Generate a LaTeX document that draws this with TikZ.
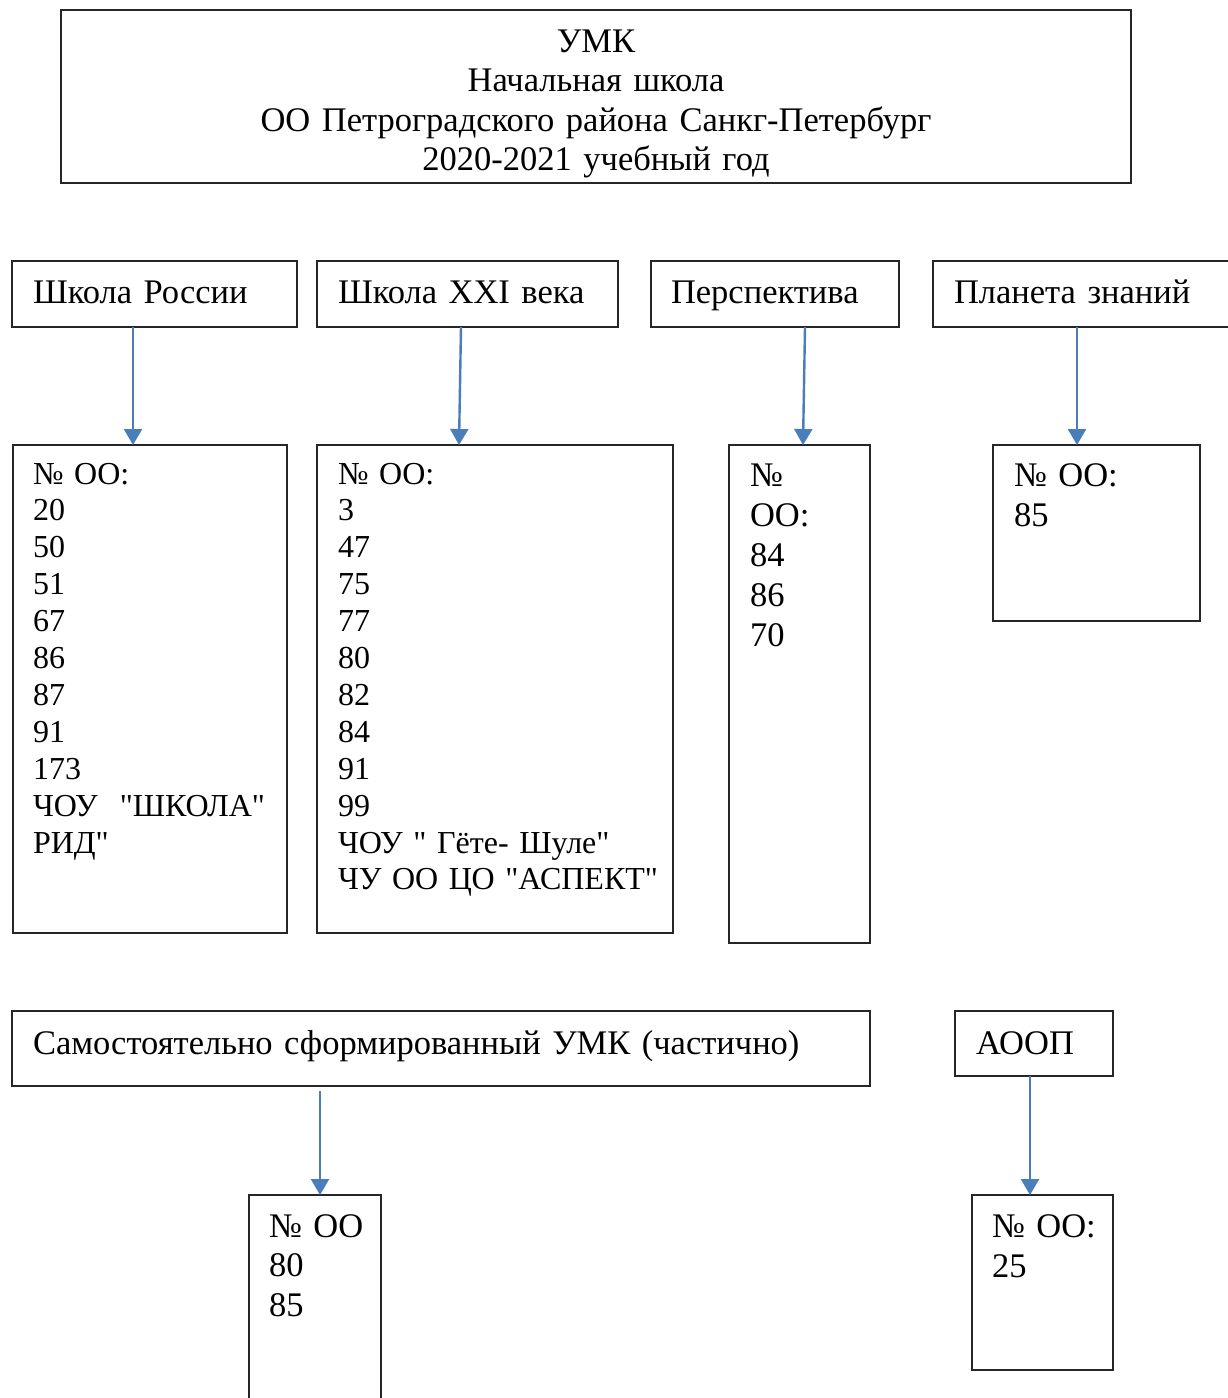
\documentclass[tikz,border=0pt]{standalone}
\usepackage{fontspec}
\setmainfont{Liberation Serif}[Ligatures=TeXOff]
\usetikzlibrary{arrows.meta}
\definecolor{arr}{HTML}{4A7EBB}
\begin{document}
\begin{tikzpicture}[x=1pt,y=-1pt,
  box/.style={draw=black!85, line width=1.3pt, inner sep=0pt, outer sep=0pt, anchor=north west},
  boxwh/.style 2 args={box, minimum width=#1, minimum height=#2},
  txt/.style={anchor=base west, inner sep=0pt, outer sep=0pt, align=left, text width=900pt},
  fa/.style={font=\fontsize{32}{36.9}\selectfont},
  fb/.style={font=\fontsize{34.5}{40}\selectfont},
  fh/.style={font=\fontsize{34.5}{39.5}\selectfont},
  conn/.style={draw=arr, line width=2.4pt, -{Triangle[width=18pt,length=16pt]}}
]
\fill[white] (0,0) rectangle (1227,1398);
\useasboundingbox (0,0) rectangle (1227,1398);

% title
\node[boxwh={1070pt}{173pt}] (title) at (61,10) {};
\node[anchor=base, inner sep=0pt, align=center, text width=1000pt, fh] (titletext) at (596,52)
  {УМК\\Начальная школа\\ОО Петроградского района Санкг-Петербург\\2020-2021 учебный год};

% headers
\node[boxwh={285pt}{66pt}] (h1) at (12,261) {};
\node[boxwh={301pt}{66pt}] (h2) at (317,261) {};
\node[boxwh={248pt}{66pt}] (h3) at (651,261) {};
\node[boxwh={310pt}{66pt}] (h4) at (933,261) {};
\node[txt,fh] (h1t) at (33,303) {Школа России};
\node[txt,fh] (h2t) at (338,303) {Школа XXI века};
\node[txt,fh] (h3t) at (671,303) {Перспектива};
\node[txt,fh] (h4t) at (954,303) {Планета знаний};

% lists
\node[boxwh={274pt}{488pt}] (l1) at (13,445) {};
\node[boxwh={356pt}{488pt}] (l2) at (317,445) {};
\node[boxwh={141pt}{498pt}] (l3) at (729,445) {};
\node[boxwh={207pt}{176pt}] (l4) at (993,445) {};
\node[txt,fa] (l1t) at (33,484) {№ ОО:\\20\\50\\51\\67\\86\\87\\91\\173\\ЧОУ\hspace{22pt}"ШКОЛА"\\РИД"};
\node[txt,fa] (l2t) at (338,484) {№ ОО:\\3\\47\\75\\77\\80\\82\\84\\91\\99\\ЧОУ " Гёте- Шуле"\\ЧУ ОО ЦО "АСПЕКТ"};
\node[txt,fb] (l3t) at (750,486) {№\\ОО:\\84\\86\\70};
\node[txt,fb] (l4t) at (1014,486) {№ ОО:\\85};

% bottom row
\node[boxwh={858pt}{75pt}] (h5) at (12,1011) {};
\node[boxwh={158pt}{65pt}] (h6) at (955,1011) {};
\node[txt,fh] (h5t) at (33,1054) {Самостоятельно сформированный УМК (частично)};
\node[txt,fh] (h6t) at (976,1054) {АООП};
\node[boxwh={132pt}{220pt}] (l5) at (249,1195) {};
\node[boxwh={141pt}{175pt}] (l6) at (972,1195) {};
\node[txt,fh] (l5t) at (269,1237) {№ ОО\\80\\85};
\node[txt,fb] (l6t) at (992,1237) {№ ОО:\\25};

% connectors
\draw[conn] ([xshift=121pt]h1.south west) -- ([xshift=120pt]l1.north west);
\draw[conn] ([xshift=144pt]h2.south west) -- ([xshift=142pt]l2.north west);
\draw[conn] ([xshift=154pt]h3.south west) -- ([xshift=74pt]l3.north west);
\draw[conn] ([xshift=144pt]h4.south west) -- ([xshift=84pt]l4.north west);
\draw[conn] ([xshift=308pt,yshift=-5pt]h5.south west) -- ([xshift=71pt]l5.north west);
\draw[conn] ([xshift=75pt]h6.south west) -- ([xshift=58pt]l6.north west);
\end{tikzpicture}
\end{document}
